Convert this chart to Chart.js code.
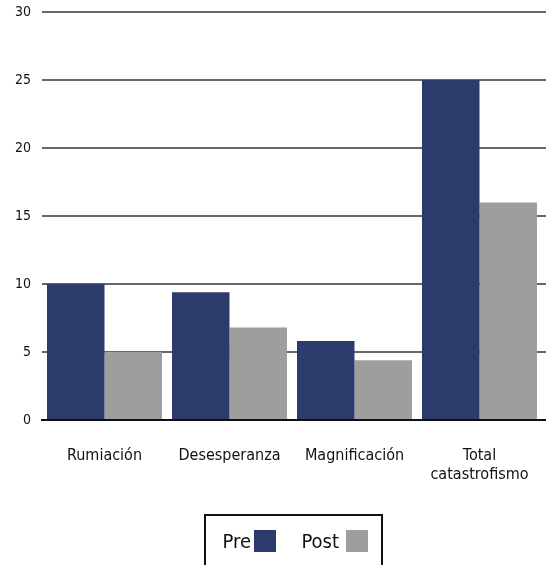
<!DOCTYPE html>
<html>
<head>
<meta charset="utf-8">
<script src="https://cdn.jsdelivr.net/npm/chart.js@4/dist/chart.umd.min.js"></script>
<style>
  html, body { margin: 0; padding: 0; background: #fff; }
  #wrap { position: relative; width: 546px; height: 565px; overflow: hidden; }
  #chart { position: absolute; left: 0; top: 0; }
  #legend {
    position: absolute; left: 204px; top: 514px; width: 175px; height: 70px;
    border: 2px solid #111; box-sizing: content-box;
    font-family: 'DejaVu Sans Condensed', 'Liberation Sans', sans-serif;
    font-size: 20px; color: #111;
  }
  .lbl { position: absolute; top: 14px; height: 22px; line-height: 22px; text-align: right; }
  .sw { position: absolute; top: 14px; width: 22px; height: 22px; }
</style>
</head>
<body>
<div id="wrap">
  <canvas id="chart" width="546" height="565"></canvas>
  <div id="legend"></div>
</div>
<script>
// Catastrophizing subscale scores, before and after
const categories = ['Rumiación', 'Desesperanza', 'Magnificación', ['Total', 'catastrofismo']];
const preValues = [10, 9.4, 5.8, 25];
const postValues = [5, 6.8, 4.4, 16];
const yTicks = [0, 5, 10, 15, 20, 25, 30];

const seriesNames = ['Pre', 'Post'];
const seriesColors = ['#2d3a6c', '#9e9e9e'];

const FONT = "'DejaVu Sans Condensed', 'Liberation Sans', sans-serif";
const gridColor = v => v === 0 ? '#111' : '#666';

// Carry the horizontal grid lines on to the right edge of the canvas
const gridToEdge = {
  id: 'gridToEdge',
  beforeDatasetsDraw(chart) {
    const { ctx, chartArea, scales } = chart;
    ctx.save();
    ctx.lineWidth = 2;
    yTicks.forEach(v => {
      const y = Math.round(scales.y.getPixelForValue(v));
      ctx.strokeStyle = gridColor(v);
      ctx.beginPath();
      ctx.moveTo(chartArea.right - 1, y);
      ctx.lineTo(chart.width, y);
      ctx.stroke();
    });
    ctx.restore();
  }
};

new Chart(document.getElementById('chart'), {
  type: 'bar',
  data: {
    labels: categories,
    datasets: [
      { label: seriesNames[0], data: preValues, backgroundColor: seriesColors[0], borderWidth: 0 },
      { label: seriesNames[1], data: postValues, backgroundColor: seriesColors[1], borderWidth: 0 }
    ]
  },
  plugins: [gridToEdge],
  options: {
    responsive: false,
    animation: false,
    layout: { padding: { top: 12, right: 4, bottom: 0, left: 0 } },
    datasets: { bar: { categoryPercentage: 0.92, barPercentage: 1.0 } },
    plugins: { legend: { display: false }, tooltip: { enabled: false } },
    scales: {
      x: {
        grid: { display: false, drawTicks: false },
        border: { display: true, color: '#111', width: 2 },
        ticks: { color: '#111', font: { family: FONT, size: 16, lineHeight: 1.2 }, padding: 26, maxRotation: 0, autoSkip: false },
        afterFit: s => { s.height = 145; s.paddingLeft = 0; s.paddingRight = 0; }
      },
      y: {
        min: 0, max: 30,
        afterBuildTicks: s => { s.ticks = yTicks.map(v => ({ value: v })); },
        grid: {
          drawTicks: false,
          color: ctx => ctx.tick ? gridColor(ctx.tick.value) : '#666',
          lineWidth: 2
        },
        border: { display: false },
        ticks: { color: '#111', font: { family: FONT, size: 14 }, padding: 11 },
        afterFit: s => { s.width = 42; s.paddingTop = 0; s.paddingBottom = 0; }
      }
    }
  }
});

// Legend: name first, swatch after
const legend = document.getElementById('legend');
const textRight = [45, 133];
const swatchLeft = [48, 140];
seriesNames.forEach((name, i) => {
  const t = document.createElement('div');
  t.className = 'lbl';
  t.style.left = (textRight[i] - 60) + 'px';
  t.style.width = '60px';
  t.textContent = name;
  legend.appendChild(t);
  const sw = document.createElement('div');
  sw.className = 'sw';
  sw.style.left = swatchLeft[i] + 'px';
  sw.style.background = seriesColors[i];
  legend.appendChild(sw);
});
</script>
</body>
</html>
